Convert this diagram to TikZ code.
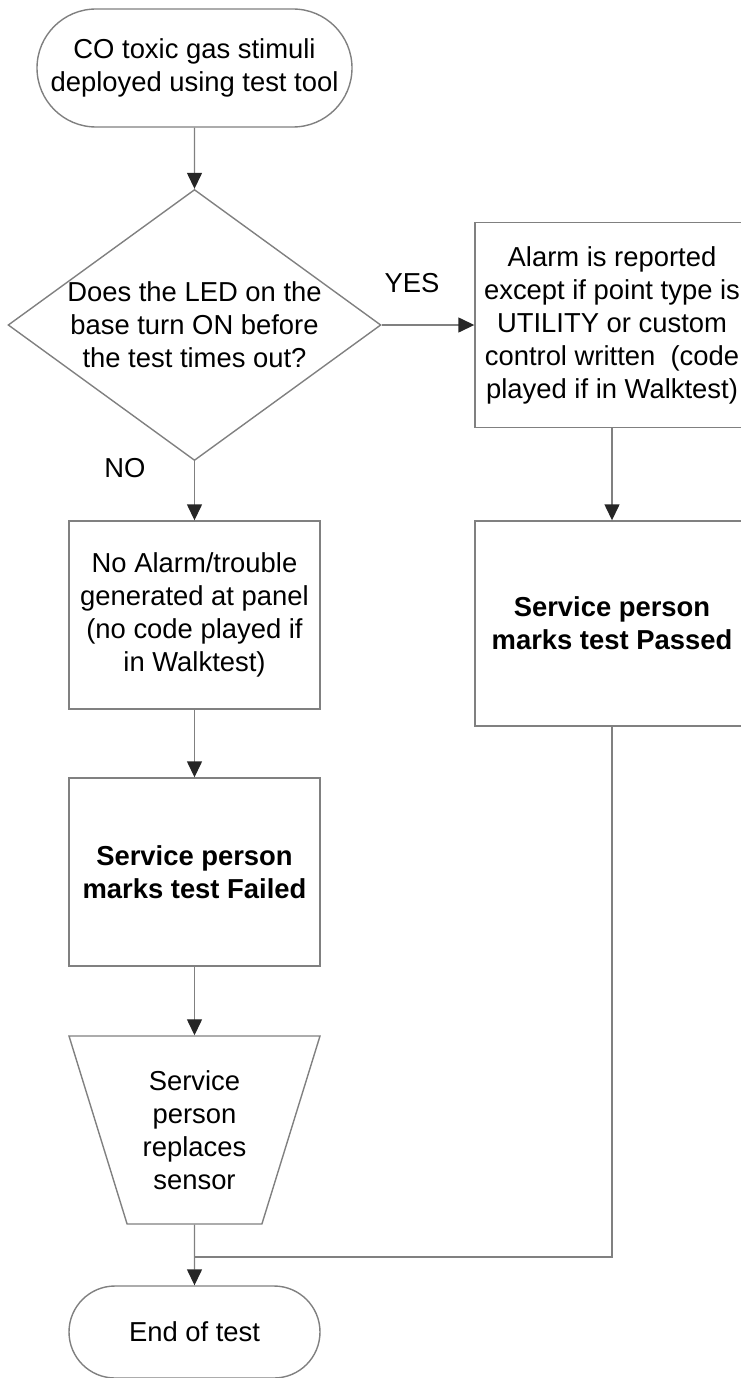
\documentclass[tikz,border=0pt]{standalone}
\usepackage{fontspec}
\setmainfont{Liberation Sans}
\usepackage{tikz}
\usetikzlibrary{arrows.meta,shapes.geometric,shapes.misc,positioning}
\newcommand{\fsz}{\fontsize{27.4}{33}\selectfont}
\tikzset{
    terminal/.style={draw=black!50, line width=1.4pt, rounded rectangle, font=\fsz, align=center, inner sep=0pt},
    process/.style={draw=black!50, line width=1.4pt, rectangle, font=\fsz, align=center, inner sep=0pt},
    decision/.style={draw=black!50, line width=1.4pt, diamond, aspect=1.376, font=\fsz, align=center, inner sep=0pt},
    manual/.style={draw=black!50, line width=1.4pt, trapezium, trapezium angle=64, trapezium stretches body,
        shape border rotate=180, font=\fsz, align=center, inner sep=0pt},
    answer/.style={font=\fsz, inner sep=0pt},
    flow/.style={-{Triangle[length=16pt, width=15pt, color=black!85]}, draw=black!50, line width=1.4pt},
    link/.style={draw=black!50, line width=1.4pt}
}

\begin{document}
\begin{tikzpicture}[x=1pt, y=-1pt]
    \useasboundingbox (0,0) rectangle (741,1378);
    \node[terminal, minimum width=315pt, minimum height=118pt] (start) at (194.5,68) {CO toxic gas stimuli\\deployed using test tool};
    \node[decision, minimum width=366pt, minimum height=266pt] (led) at (194.5,325) {Does the LED on the\\base turn ON before\\the test times out?};
    \node[process, minimum width=274pt, minimum height=205pt] (alarm) at (612,325) {Alarm is reported\\except if point type is\\UTILITY or custom\\control written\ \ (code\\played if in Walktest)};
    \node[process, minimum width=251pt, minimum height=188pt] (noalarm) at (194.5,615) {No Alarm/trouble\\generated at panel\\(no code played if\\in Walktest)};
    \node[process, minimum width=274pt, minimum height=205pt, font=\fsz\bfseries] (passed) at (612,623.5) {Service person\\marks test Passed};
    \node[process, minimum width=251pt, minimum height=188pt, font=\fsz\bfseries] (failed) at (194.5,872) {Service person\\marks test Failed};
    \node[manual, minimum width=251pt, minimum height=188pt] (replace) at (194.5,1130) {Service\\person\\replaces\\sensor};
    \node[terminal, minimum width=251pt, minimum height=92pt] (finish) at (194.5,1332) {End of test};
    \node[answer] (yes) at (412,283) {YES};
    \node[answer] (no) at (125,468) {NO};
    \coordinate (join) at (194.5,1257);

    \draw[flow] (start) -- (led);
    \draw[flow] (led.east) -- (alarm.west);
    \draw[flow] (led.south) -- (noalarm.north);
    \draw[flow] (alarm.south) -- (passed.north);
    \draw[flow] (noalarm) -- (failed);
    \draw[flow] (failed) -- (replace);
    \draw[flow] (replace) -- (finish);
    \draw[link] (passed.south) |- (join);
\end{tikzpicture}
\end{document}
